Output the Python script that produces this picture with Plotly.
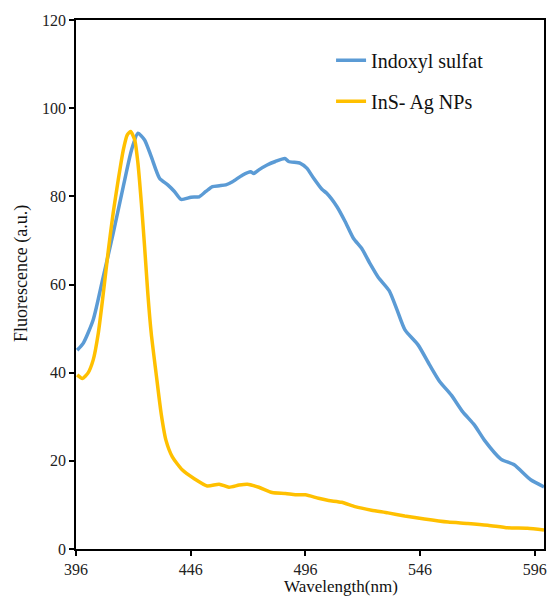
import plotly.graph_objects as go

# Indoxyl sulfat (blue)
ind_x = [396.5, 399.2, 403.5, 407.9, 412.2, 416.6, 420.2, 423.0, 425.9, 428.8, 432.4, 436.0,
         438.9, 441.8, 446.1, 449.7, 452.6, 455.5, 458.5, 461.3, 464.2, 468.5, 472.1, 473.5,
         475.7, 479.3, 482.9, 487.0, 488.7, 493.8, 496.6, 499.6, 503.2, 505.3, 509.7, 513.3,
         516.9, 520.5, 524.1, 527.8, 532.5, 535.9, 539.4, 545.1, 550.2, 554.5, 559.6, 564.6,
         569.7, 574.0, 581.2, 587.0, 594.2, 600.0]
ind_y = [45.1, 46.7, 52.0, 61.8, 71.6, 82.2, 90.5, 94.3, 92.8, 89.0, 84.1, 82.6,
         81.1, 79.3, 79.8, 79.9, 81.1, 82.2, 82.4, 82.6, 83.3, 84.8, 85.6, 85.2,
         86.0, 87.1, 87.9, 88.6, 87.9, 87.5, 86.4, 84.1, 81.6, 80.7, 77.7, 74.3,
         70.5, 68.2, 64.8, 61.6, 58.6, 54.3, 49.7, 46.3, 41.7, 38.0, 34.9, 31.1,
         28.1, 24.7, 20.4, 19.1, 15.7, 14.1]

# InS- Ag NPs (yellow)
ag_x = [396.5, 398.8, 401.2, 403.5, 405.7, 407.9, 410.1, 412.2, 414.4, 416.6, 418.3, 419.8,
        421.6, 423.0, 424.5, 425.9, 427.3, 428.8, 430.9, 433.1, 435.2, 438.0, 442.4, 447.4,
        453.2, 458.4, 462.7, 467.1, 470.7, 475.7, 481.5, 487.3, 491.6, 496.0, 501.7, 506.1,
        511.8, 517.6, 524.8, 532.0, 539.3, 547.9, 558.2, 566.8, 575.5, 584.2, 592.8, 600.0]
ag_y = [39.5, 38.7, 39.9, 42.9, 48.9, 58.0, 67.8, 76.2, 83.7, 90.5, 93.9, 94.7,
        92.8, 87.5, 78.4, 68.6, 58.0, 48.9, 39.9, 30.8, 24.7, 20.9, 17.9, 16.0,
        14.3, 14.7, 14.0, 14.5, 14.7, 14.0, 12.8, 12.6, 12.3, 12.3, 11.5, 11.0,
        10.6, 9.6, 8.8, 8.2, 7.5, 6.8, 6.1, 5.8, 5.4, 4.8, 4.7, 4.3]

x_ticks = [396, 446, 496, 546, 596]
y_ticks = [0, 20, 40, 60, 80, 100, 120]

FONT = "Liberation Serif, Times New Roman, serif"

fig = go.Figure()
fig.add_trace(go.Scatter(x=ind_x, y=ind_y, mode="lines", name="Indoxyl sulfat",
                         legendgroup="a",
                         line=dict(color="#5B9BD5", width=3.5, shape="spline", smoothing=0.6)))
fig.add_trace(go.Scatter(x=ag_x, y=ag_y, mode="lines", name="InS- Ag NPs",
                         legendgroup="b",
                         line=dict(color="#FFC000", width=3.5, shape="spline", smoothing=0.6)))

axis_common = dict(showline=True, linecolor="black", linewidth=1.5, mirror=True,
                   ticks="outside", ticklen=5, tickwidth=1.5, tickcolor="black",
                   showgrid=False, zeroline=False, ticklabelstandoff=0,
                   tickfont=dict(family=FONT, size=16, color="#222"))

fig.update_xaxes(range=[396, 600], tickvals=x_ticks, ticktext=[str(v) for v in x_ticks],
                 **axis_common)
fig.update_yaxes(range=[0, 120], tickvals=y_ticks, ticktext=[str(v) for v in y_ticks],
                 **axis_common)

fig.update_layout(
    width=553, height=596,
    margin=dict(l=76, r=6, t=20, b=47),
    paper_bgcolor="white", plot_bgcolor="white",
    showlegend=True,
    legend=dict(x=0.545, y=0.961, xanchor="left", yanchor="top",
                font=dict(family=FONT, size=20, color="#111"),
                bgcolor="rgba(0,0,0,0)", traceorder="grouped", tracegroupgap=12),
    annotations=[
        dict(text="Wavelength(nm)", x=0.567, y=-0.071, xref="paper", yref="paper",
             showarrow=False, xanchor="center", yanchor="middle",
             font=dict(family=FONT, size=17, color="#111")),
        dict(text="Fluorescence (a.u.)", x=-0.115, y=0.52, xref="paper", yref="paper",
             showarrow=False, textangle=-90, xanchor="center", yanchor="middle",
             font=dict(family=FONT, size=18, color="#111")),
    ],
)

fig.write_html("out.html")
